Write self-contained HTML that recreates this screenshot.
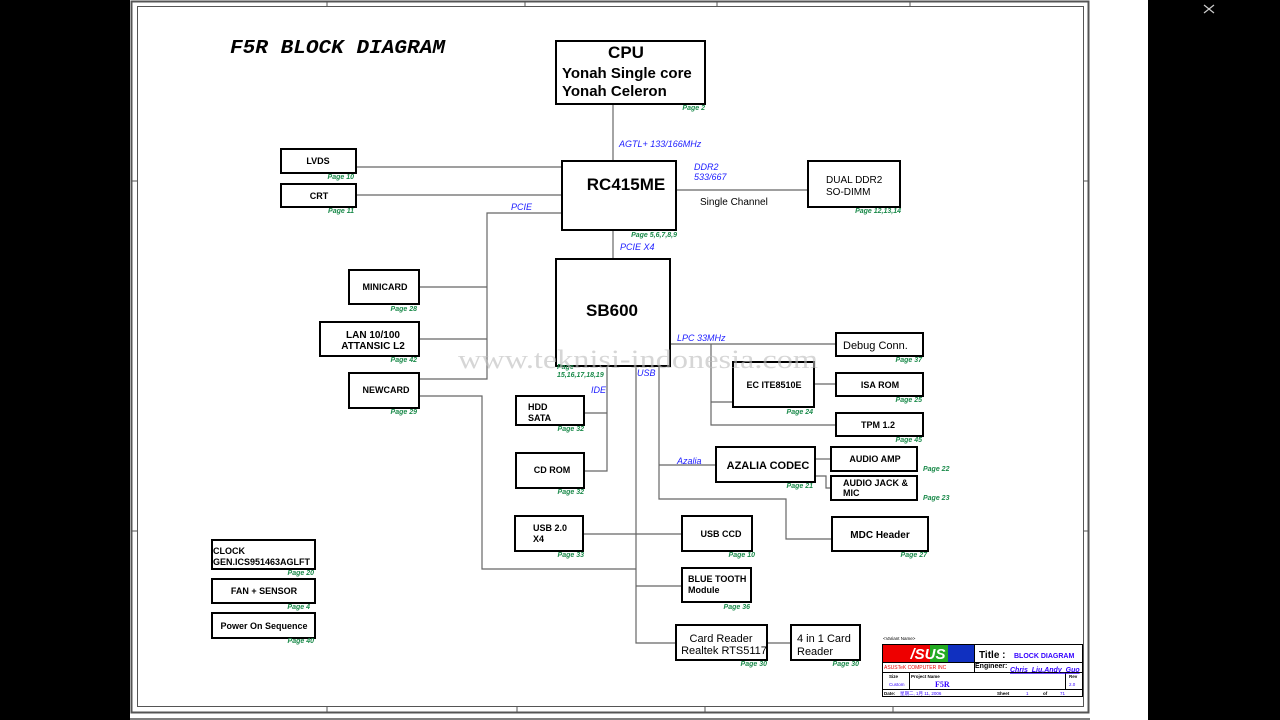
<!DOCTYPE html>
<html><head><meta charset="utf-8"><style>
html,body{margin:0;padding:0;background:#000;width:1280px;height:720px;overflow:hidden}
svg{display:block}
.b{font-family:"Liberation Sans",sans-serif;font-weight:bold;fill:#000}
.n{font-family:"Liberation Sans",sans-serif;fill:#000}
.pg{font-family:"Liberation Sans",sans-serif;font-weight:bold;font-style:italic;font-size:7px;fill:#1a8a4a}
.bl{font-family:"Liberation Sans",sans-serif;font-style:italic;font-size:9px;fill:#2020ff}
</style></head><body>
<svg width="1280" height="720" viewBox="0 0 1280 720" xmlns="http://www.w3.org/2000/svg">
<rect x="130" y="0" width="1018" height="720" fill="#fff"/>
<rect x="131.5" y="1.5" width="957" height="711" fill="none" stroke="#555" stroke-width="2"/>
<rect x="137.5" y="6.5" width="946" height="700" fill="none" stroke="#555" stroke-width="1"/>
<line x1="130" y1="719" x2="1090" y2="719" stroke="#555" stroke-width="1.5"/>
<g stroke="#555" stroke-width="1">
<line x1="327" y1="1" x2="327" y2="6"/><line x1="525" y1="1" x2="525" y2="6"/><line x1="717" y1="1" x2="717" y2="6"/><line x1="910" y1="1" x2="910" y2="6"/>
<line x1="327" y1="706" x2="327" y2="712"/><line x1="517" y1="706" x2="517" y2="712"/><line x1="705" y1="706" x2="705" y2="712"/><line x1="893" y1="706" x2="893" y2="712"/>
<line x1="132" y1="181" x2="137" y2="181"/><line x1="132" y1="531" x2="137" y2="531"/>
<line x1="1084" y1="181" x2="1089" y2="181"/><line x1="1084" y1="531" x2="1089" y2="531"/>
</g>
<g stroke="#ccc" stroke-width="1.2"><line x1="1204" y1="5" x2="1214" y2="13"/><line x1="1214" y1="5" x2="1204" y2="13"/></g>

<text x="230" y="53" font-family="Liberation Mono,monospace" font-weight="bold" font-style="italic" font-size="19" fill="#000" textLength="215" lengthAdjust="spacingAndGlyphs">F5R BLOCK DIAGRAM</text>

<g stroke="#666" stroke-width="1.2" fill="none">
<line x1="613" y1="104" x2="613" y2="161"/>
<line x1="356" y1="167" x2="562" y2="167"/>
<line x1="356" y1="195" x2="562" y2="195"/>
<polyline points="562,213 487,213 487,379 419,379"/>
<line x1="419" y1="287" x2="487" y2="287"/>
<line x1="419" y1="339" x2="487" y2="339"/>
<polyline points="419,396 482,396 482,569 636,569"/>
<line x1="613" y1="230" x2="613" y2="259"/>
<line x1="676" y1="190" x2="808" y2="190"/>
<polyline points="607,366 607,471 584,471"/>
<line x1="584" y1="413" x2="607" y2="413"/>
<polyline points="636,366 636,643 676,643"/>
<line x1="583" y1="534" x2="682" y2="534"/>
<line x1="636" y1="586" x2="682" y2="586"/>
<line x1="768" y1="643" x2="791" y2="643"/>
<polyline points="659,366 659,499 786,499 786,539 832,539"/>
<line x1="659" y1="465" x2="716" y2="465"/>
<line x1="670" y1="344" x2="836" y2="344"/>
<polyline points="711,344 711,425 836,425"/>
<line x1="711" y1="402" x2="733" y2="402"/>
<line x1="814" y1="384" x2="836" y2="384"/>
<line x1="815" y1="459" x2="831" y2="459"/>
<polyline points="815,476 826,476 826,488 831,488"/>
</g>

<g stroke="#000" stroke-width="2" fill="#fff">
<rect x="556" y="41" width="149" height="63"/>
<rect x="562" y="161" width="114" height="69"/>
<rect x="556" y="259" width="114" height="107"/>
<rect x="281" y="149" width="75" height="24"/>
<rect x="281" y="184" width="75" height="23"/>
<rect x="349" y="270" width="70" height="34"/>
<rect x="320" y="322" width="99" height="34"/>
<rect x="349" y="373" width="70" height="35"/>
<rect x="516" y="396" width="68" height="29"/>
<rect x="516" y="453" width="68" height="35"/>
<rect x="515" y="516" width="68" height="35"/>
<rect x="682" y="516" width="70" height="35"/>
<rect x="682" y="568" width="69" height="34"/>
<rect x="676" y="625" width="91" height="35"/>
<rect x="791" y="625" width="69" height="35"/>
<rect x="808" y="161" width="92" height="46"/>
<rect x="836" y="333" width="87" height="23"/>
<rect x="733" y="362" width="81" height="45"/>
<rect x="836" y="373" width="87" height="23"/>
<rect x="836" y="413" width="87" height="23"/>
<rect x="716" y="447" width="99" height="35"/>
<rect x="831" y="447" width="86" height="24"/>
<rect x="831" y="476" width="86" height="24"/>
<rect x="832" y="517" width="96" height="34"/>
<rect x="212" y="540" width="103" height="29"/>
<rect x="212" y="579" width="103" height="24"/>
<rect x="212" y="613" width="103" height="25"/>
</g>

<text class="b" x="626" y="58" font-size="17" text-anchor="middle">CPU</text>
<text class="b" x="562" y="78" font-size="15">Yonah Single core</text>
<text class="b" x="562" y="96" font-size="15">Yonah Celeron</text>
<text class="b" x="626" y="190" font-size="17" text-anchor="middle">RC415ME</text>
<text class="b" x="612" y="316" font-size="17" text-anchor="middle">SB600</text>
<text class="b" x="318" y="164" font-size="9" text-anchor="middle">LVDS</text>
<text class="b" x="319" y="199" font-size="9" text-anchor="middle">CRT</text>
<text class="b" x="385" y="290" font-size="9" text-anchor="middle">MINICARD</text>
<text class="b" x="373" y="338" font-size="10" text-anchor="middle">LAN 10/100</text>
<text class="b" x="373" y="349" font-size="10" text-anchor="middle">ATTANSIC L2</text>
<text class="b" x="386" y="393" font-size="9" text-anchor="middle">NEWCARD</text>
<text class="b" x="528" y="410" font-size="9">HDD</text>
<text class="b" x="528" y="421" font-size="9">SATA</text>
<text class="b" x="552" y="473" font-size="9" text-anchor="middle">CD ROM</text>
<text class="b" x="533" y="531" font-size="9">USB 2.0</text>
<text class="b" x="533" y="542" font-size="9">X4</text>
<text class="b" x="721" y="537" font-size="9" text-anchor="middle">USB CCD</text>
<text class="b" x="688" y="582" font-size="9">BLUE TOOTH</text>
<text class="b" x="688" y="593" font-size="9">Module</text>
<text class="n" x="721" y="642" font-size="11" text-anchor="middle">Card Reader</text>
<text class="n" x="724" y="654" font-size="11" text-anchor="middle">Realtek RTS5117</text>
<text class="n" x="797" y="642" font-size="11">4 in 1 Card</text>
<text class="n" x="797" y="655" font-size="11">Reader</text>
<text class="n" x="826" y="183" font-size="10">DUAL DDR2</text>
<text class="n" x="826" y="195" font-size="10">SO-DIMM</text>
<text class="n" x="843" y="349" font-size="11">Debug Conn.</text>
<text class="b" x="774" y="388" font-size="9" text-anchor="middle">EC ITE8510E</text>
<text class="b" x="880" y="388" font-size="9" text-anchor="middle">ISA ROM</text>
<text class="b" x="878" y="428" font-size="9" text-anchor="middle">TPM 1.2</text>
<text class="b" x="768" y="469" font-size="11" text-anchor="middle">AZALIA CODEC</text>
<text class="b" x="875" y="462" font-size="9" text-anchor="middle">AUDIO AMP</text>
<text class="b" x="843" y="486" font-size="9">AUDIO JACK &amp;</text>
<text class="b" x="843" y="496" font-size="9">MIC</text>
<text class="b" x="880" y="538" font-size="10" text-anchor="middle">MDC Header</text>
<text class="b" x="213" y="554" font-size="9">CLOCK</text>
<text class="b" x="213" y="565" font-size="9">GEN.ICS951463AGLFT</text>
<text class="b" x="264" y="594" font-size="9" text-anchor="middle">FAN + SENSOR</text>
<text class="b" x="264" y="629" font-size="9" text-anchor="middle">Power On Sequence</text>

<text class="pg" x="705" y="110" text-anchor="end">Page 2</text>
<text class="pg" x="677" y="237" text-anchor="end">Page 5,6,7,8,9</text>
<text class="pg" x="901" y="213" text-anchor="end">Page 12,13,14</text>
<text class="pg" x="354" y="179" text-anchor="end">Page 10</text>
<text class="pg" x="354" y="213" text-anchor="end">Page 11</text>
<text class="pg" x="417" y="311" text-anchor="end">Page 28</text>
<text class="pg" x="417" y="362" text-anchor="end">Page 42</text>
<text class="pg" x="417" y="414" text-anchor="end">Page 29</text>
<text class="pg" x="557" y="369">Page</text>
<text class="pg" x="557" y="377">15,16,17,18,19</text>
<text class="pg" x="584" y="431" text-anchor="end">Page 32</text>
<text class="pg" x="584" y="494" text-anchor="end">Page 32</text>
<text class="pg" x="584" y="557" text-anchor="end">Page 33</text>
<text class="pg" x="755" y="557" text-anchor="end">Page 10</text>
<text class="pg" x="750" y="609" text-anchor="end">Page 36</text>
<text class="pg" x="767" y="666" text-anchor="end">Page 30</text>
<text class="pg" x="859" y="666" text-anchor="end">Page 30</text>
<text class="pg" x="922" y="362" text-anchor="end">Page 37</text>
<text class="pg" x="813" y="414" text-anchor="end">Page 24</text>
<text class="pg" x="922" y="402" text-anchor="end">Page 25</text>
<text class="pg" x="922" y="442" text-anchor="end">Page 45</text>
<text class="pg" x="813" y="488" text-anchor="end">Page 21</text>
<text class="pg" x="923" y="471">Page 22</text>
<text class="pg" x="923" y="500">Page 23</text>
<text class="pg" x="927" y="557" text-anchor="end">Page 27</text>
<text class="pg" x="314" y="575" text-anchor="end">Page 20</text>
<text class="pg" x="310" y="609" text-anchor="end">Page 4</text>
<text class="pg" x="314" y="643" text-anchor="end">Page 40</text>

<text class="bl" x="619" y="147">AGTL+ 133/166MHz</text>
<text class="bl" x="694" y="170">DDR2</text>
<text class="bl" x="694" y="180">533/667</text>
<text class="n" x="700" y="205" font-size="10">Single Channel</text>
<text class="bl" x="511" y="210">PCIE</text>
<text class="bl" x="620" y="250">PCIE X4</text>
<text class="bl" x="677" y="341">LPC 33MHz</text>
<text class="bl" x="637" y="376">USB</text>
<text class="bl" x="591" y="393">IDE</text>
<text class="bl" x="677" y="464" font-size="11">Azalia</text>

<text x="458" y="368" font-family="Liberation Serif,serif" font-size="26" fill="#bbb" fill-opacity="0.6" textLength="360" lengthAdjust="spacingAndGlyphs">www.teknisi-indonesia.com</text>

<text x="883" y="640" font-family="Liberation Sans,sans-serif" font-size="4.5" fill="#000">&lt;Variant Name&gt;</text>
<g stroke="#000" stroke-width="1" fill="none">
<rect x="882.5" y="644.5" width="200" height="52"/>
<line x1="882" y1="662.5" x2="1083" y2="662.5"/>
<line x1="882" y1="672.5" x2="1083" y2="672.5"/>
<line x1="882" y1="689.5" x2="1083" y2="689.5"/>
<line x1="974.5" y1="644" x2="974.5" y2="672"/>
<line x1="909.5" y1="672" x2="909.5" y2="689"/>
<line x1="1065.5" y1="672" x2="1065.5" y2="689"/>
</g>
<rect x="883" y="645" width="60" height="17" fill="#e00"/>
<rect x="943" y="645" width="31" height="17" fill="#1030c0"/>
<rect x="930" y="645" width="18" height="17" fill="#2a2"/>
<text x="928" y="659" text-anchor="middle" font-family="Liberation Sans,sans-serif" font-weight="bold" font-style="italic" font-size="15" fill="#fff">/SUS</text>
<text x="979" y="658" class="b" font-size="10">Title :</text>
<text x="1014" y="658" font-family="Liberation Sans,sans-serif" font-weight="bold" font-size="7" fill="#30f">BLOCK DIAGRAM</text>
<text x="884" y="669" font-family="Liberation Sans,sans-serif" font-size="5" fill="#e00">ASUSTeK COMPUTER INC</text>
<text x="975" y="668" class="b" font-size="7">Engineer:</text>
<text x="1010" y="672" font-family="Liberation Sans,sans-serif" font-weight="bold" font-style="italic" font-size="7" fill="#30f" text-decoration="underline">Chris_Liu,Andy_Guo</text>
<text x="889" y="678" class="b" font-size="4.5">Size</text>
<text x="889" y="686" font-family="Liberation Sans,sans-serif" font-size="4.5" fill="#30f">Custom</text>
<text x="911" y="678" class="b" font-size="4.5">Project Name</text>
<text x="935" y="687" font-family="Liberation Serif,serif" font-weight="bold" font-size="8" fill="#30f">F5R</text>
<text x="1069" y="678" class="b" font-size="4.5">Rev</text>
<text x="1069" y="686" font-family="Liberation Sans,sans-serif" font-size="4.5" fill="#30f">2.0</text>
<text x="884" y="695" class="b" font-size="4.5">Date:</text>
<text x="900" y="695" font-family="Liberation Sans,&quot;Noto Sans CJK SC&quot;,sans-serif" font-size="4.5" fill="#30f">星期二, 1月 11, 2006</text>
<text x="997" y="695" class="b" font-size="4.5">Sheet</text>
<text x="1026" y="695" font-family="Liberation Sans,sans-serif" font-size="4.5" fill="#30f">1</text>
<text x="1043" y="695" class="b" font-size="4.5">of</text>
<text x="1060" y="695" font-family="Liberation Sans,sans-serif" font-size="4.5" fill="#30f">71</text>
</svg>
</body></html>
